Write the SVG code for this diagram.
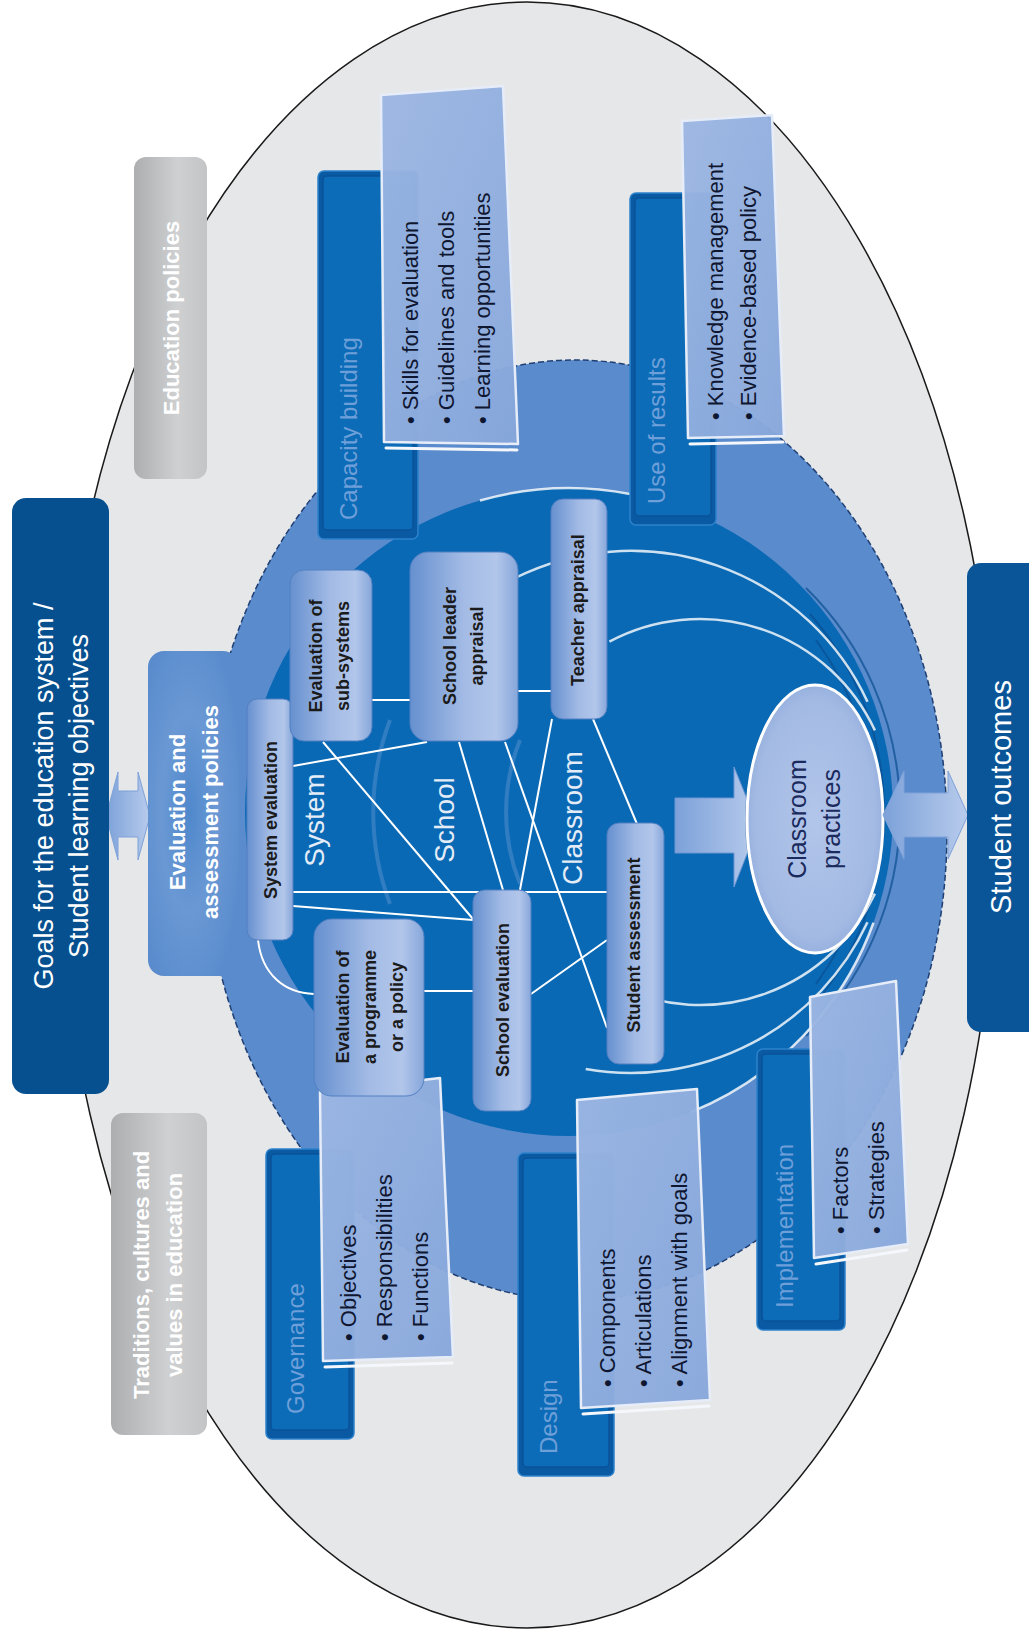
<svg xmlns="http://www.w3.org/2000/svg" width="1029" height="1636" viewBox="0 0 1029 1636">
<defs>
<linearGradient id="grayGrad" x1="0" y1="0" x2="1" y2="0">
<stop offset="0" stop-color="#adaeb0"/><stop offset="0.6" stop-color="#cfd0d2"/><stop offset="1" stop-color="#c3c4c6"/>
</linearGradient>
<linearGradient id="nodeGrad" x1="0" y1="0" x2="1" y2="0">
<stop offset="0" stop-color="#6690cf"/><stop offset="0.5" stop-color="#a3bbe5"/><stop offset="0.8" stop-color="#b2c6ea"/><stop offset="1" stop-color="#86a6da"/>
</linearGradient>
<linearGradient id="cardGrad" x1="0" y1="0" x2="1" y2="1">
<stop offset="0" stop-color="#9db7e3"/><stop offset="1" stop-color="#87a7db"/>
</linearGradient>
<radialGradient id="evalGrad" cx="0.45" cy="0.5" r="0.6">
<stop offset="0" stop-color="#4f88cc"/><stop offset="0.5" stop-color="#6a98d4"/><stop offset="1" stop-color="#5a8ccd"/>
</radialGradient>
<linearGradient id="arrowGrad" x1="0" y1="0" x2="1" y2="0">
<stop offset="0" stop-color="#7ca1d9"/><stop offset="1" stop-color="#b8cbec"/>
</linearGradient>
<radialGradient id="cpGrad" cx="0.5" cy="0.5" r="0.55">
<stop offset="0" stop-color="#b2c5ea"/><stop offset="0.8" stop-color="#a3bae3"/><stop offset="1" stop-color="#8eaadb"/>
</radialGradient>
<style>
.ff{font-family:'Liberation Sans',Arial,sans-serif}
.nt{font-family:'Liberation Sans',Arial,sans-serif;font-weight:bold;font-size:18px;fill:#1b1b1b;text-anchor:middle;dominant-baseline:central}
.bl{font-family:'Liberation Sans',Arial,sans-serif;font-size:22px;fill:#0f1630;dominant-baseline:central}
.tg{font-family:'Liberation Sans',Arial,sans-serif;font-size:24px;fill:#6e9fd8;dominant-baseline:central}
.big{font-family:'Liberation Sans',Arial,sans-serif;font-size:28px;fill:#e4ecf7;text-anchor:middle;dominant-baseline:central}
.sd{font-family:'Liberation Sans',Arial,sans-serif;font-weight:bold;font-size:22px;fill:#ffffff;text-anchor:middle;dominant-baseline:central}
.node{fill:url(#nodeGrad);stroke:#5280c2;stroke-width:1}
.card{fill:url(#cardGrad);fill-opacity:0.96;stroke:#e6edf8;stroke-width:2.5;stroke-linejoin:round}
.lip{stroke:#f4f7fc;stroke-width:3;fill:none;stroke-linecap:round}
.dk{fill:#0a5aa3;stroke:#2c82cc;stroke-width:1.5}
.dki{fill:#0c6cb8;stroke:#0a5298;stroke-width:1.5}
.conn{stroke:#ffffff;stroke-width:2;fill:none}
.hl{stroke:#ffffff;stroke-width:2.5;fill:none;stroke-opacity:0.8}
.ring{stroke:#0a4f92;stroke-width:2;fill:none;stroke-opacity:0.7}
</style>
</defs>

<g id="background">
<ellipse cx="527" cy="815" rx="470" ry="813" fill="#e6e7e8" stroke="#1a1a1a" stroke-width="1.5"/>
<ellipse cx="575" cy="830" rx="372" ry="470" fill="#5a8bcc" stroke="#1f3f73" stroke-width="1.5" stroke-dasharray="6 3"/>
<circle cx="569" cy="812" r="324" fill="#0a69b5"/>
<path class="ring" d="M 806 588 A 314 314 0 0 1 806 1036"/>
<path class="ring" d="M 810 614 A 302 302 0 0 1 810 1010"/>
<path class="ring" d="M 816 640 A 290 290 0 0 1 816 984"/>
<path d="M 390 720 A 261 261 0 0 0 390 904" stroke="#6b9ad6" stroke-opacity="0.4" stroke-width="4" fill="none"/>
<path d="M 520 740 A 193 193 0 0 0 520 884" stroke="#6b9ad6" stroke-opacity="0.4" stroke-width="4" fill="none"/>
<path class="hl" d="M 480 500.5 A 324 324 0 0 1 630 494"/>
<path class="hl" d="M 690.4 1112.4 A 324 324 0 0 0 873.5 922.8"/>
<path class="hl" d="M 515 578 A 261 261 0 0 1 867.5 701.7"/>
<path class="hl" d="M 585.7 1069 A 261 261 0 0 0 867.5 922.3"/>
<path class="hl" d="M 609.4 641.6 A 193 193 0 0 1 874.9 730.4"/>
<path class="hl" d="M 618.4 986.9 A 193 193 0 0 0 874.9 893.6"/>
<text class="big" transform="translate(314,820) rotate(-90)">System</text>
<text class="big" transform="translate(444,820) rotate(-90)">School</text>
<text class="big" transform="translate(572,818) rotate(-90)">Classroom</text>
</g>

<g id="connectors">
<line class="conn" x1="372" y1="700" x2="410" y2="700"/>
<line class="conn" x1="518" y1="691" x2="552" y2="691"/>
<line class="conn" x1="293" y1="766" x2="427" y2="742"/>
<line class="conn" x1="323" y1="742" x2="473" y2="919"/>
<line class="conn" x1="293" y1="892" x2="607" y2="892"/>
<line class="conn" x1="293" y1="906" x2="473" y2="920"/>
<line class="conn" x1="459" y1="742" x2="503" y2="890"/>
<line class="conn" x1="505" y1="742" x2="607" y2="1028"/>
<line class="conn" x1="552" y1="719" x2="520" y2="890"/>
<line class="conn" x1="593" y1="719" x2="637" y2="824"/>
<line class="conn" x1="424" y1="991" x2="473" y2="991"/>
<line class="conn" x1="531" y1="994" x2="607" y2="940"/>
<path class="conn" d="M 258 940 C 262 975 285 993 314 994"/>
</g>

<g id="tag-capacity-building">
<rect class="dk" x="318" y="171" width="100" height="368" rx="6"/>
<rect class="dki" x="323" y="176" width="90" height="354" rx="4"/>
<text class="tg" transform="translate(348,520) rotate(-90)">Capacity building</text>
<polygon class="card" points="381,95 503,86 518,444 384,442"/>
<path class="lip" d="M 386 448 L 517 450"/>
<text class="bl" transform="translate(410,424) rotate(-90)">•  Skills for evaluation</text>
<text class="bl" transform="translate(446,424) rotate(-90)">•  Guidelines and tools</text>
<text class="bl" transform="translate(482,424) rotate(-90)">•  Learning opportunities</text>
</g>

<g id="tag-use-of-results">
<rect class="dk" x="630" y="193" width="86" height="332" rx="6"/>
<rect class="dki" x="635" y="198" width="76" height="318" rx="4"/>
<text class="tg" transform="translate(656,504) rotate(-90)">Use of results</text>
<polygon class="card" points="682,121 772,115 784,436 688,438"/>
<path class="lip" d="M 690 444 L 783 442"/>
<text class="bl" transform="translate(715,420) rotate(-90)">•  Knowledge management</text>
<text class="bl" transform="translate(748,420) rotate(-90)">•  Evidence-based policy</text>
</g>

<g id="tag-governance">
<rect class="dk" x="266" y="1149" width="88" height="290" rx="6"/>
<rect class="dki" x="271" y="1154" width="78" height="276" rx="4"/>
<text class="tg" transform="translate(295,1414) rotate(-90)">Governance</text>
<polygon class="card" points="320,1092 440,1078 453,1357 323,1361"/>
<path class="lip" d="M 325 1367 L 452 1363"/>
<text class="bl" transform="translate(348,1341) rotate(-90)">•  Objectives</text>
<text class="bl" transform="translate(384,1341) rotate(-90)">•  Responsibilities</text>
<text class="bl" transform="translate(420,1341) rotate(-90)">•  Functions</text>
</g>

<g id="tag-design">
<rect class="dk" x="518" y="1153" width="96" height="323" rx="6"/>
<rect class="dki" x="523" y="1158" width="86" height="309" rx="4"/>
<text class="tg" transform="translate(548,1454) rotate(-90)">Design</text>
<polygon class="card" points="577,1100 697,1089 710,1400 581,1408"/>
<path class="lip" d="M 583 1414 L 709 1406"/>
<text class="bl" transform="translate(607,1387) rotate(-90)">•  Components</text>
<text class="bl" transform="translate(643,1387) rotate(-90)">•  Articulations</text>
<text class="bl" transform="translate(679,1387) rotate(-90)">•  Alignment with goals</text>
</g>

<g id="tag-implementation">
<rect class="dk" x="757" y="1049" width="88" height="281" rx="6"/>
<rect class="dki" x="762" y="1054" width="78" height="267" rx="4"/>
<text class="tg" transform="translate(784,1308) rotate(-90)">Implementation</text>
<polygon class="card" points="810,997 896,981 908,1244 814,1258"/>
<path class="lip" d="M 816 1264 L 907 1250"/>
<text class="bl" transform="translate(840,1234) rotate(-90)">•  Factors</text>
<text class="bl" transform="translate(876,1234) rotate(-90)">•  Strategies</text>
</g>

<g id="node-system-evaluation">
<rect class="node" x="247" y="699" width="46" height="241" rx="10"/>
<text class="nt" transform="translate(271,820) rotate(-90)">System evaluation</text>
</g>
<g id="node-evaluation-of-sub-systems">
<rect class="node" x="290" y="570" width="82" height="171" rx="14"/>
<text class="nt" transform="translate(316,656) rotate(-90)">Evaluation of</text>
<text class="nt" transform="translate(343,656) rotate(-90)">sub-systems</text>
</g>
<g id="node-school-leader-appraisal">
<rect class="node" x="410" y="552" width="108" height="189" rx="18"/>
<text class="nt" transform="translate(450,646) rotate(-90)">School leader</text>
<text class="nt" transform="translate(477,646) rotate(-90)">appraisal</text>
</g>
<g id="node-teacher-appraisal">
<rect class="node" x="551" y="499" width="56" height="220" rx="12"/>
<text class="nt" transform="translate(578,610) rotate(-90)">Teacher appraisal</text>
</g>
<g id="node-student-assessment">
<rect class="node" x="607" y="823" width="57" height="241" rx="12"/>
<text class="nt" transform="translate(634,945) rotate(-90)">Student assessment</text>
</g>
<g id="node-school-evaluation">
<rect class="node" x="473" y="890" width="58" height="221" rx="12"/>
<text class="nt" transform="translate(503,1000) rotate(-90)">School evaluation</text>
</g>
<g id="node-evaluation-of-programme">
<rect class="node" x="314" y="919" width="110" height="177" rx="18"/>
<text class="nt" transform="translate(343,1007) rotate(-90)">Evaluation of</text>
<text class="nt" transform="translate(370,1007) rotate(-90)">a programme</text>
<text class="nt" transform="translate(397,1007) rotate(-90)">or a policy</text>
</g>

<g id="arrow-to-practices">
<polygon points="675,798 734,798 734,767 758,826 734,887 734,853 675,853" fill="url(#arrowGrad)" stroke="#6f97d3" stroke-width="1"/>
</g>

<g id="node-classroom-practices">
<ellipse cx="815" cy="819" rx="70" ry="135" fill="#0a4f92" opacity="0.5"/>
<ellipse cx="815" cy="819" rx="68" ry="134" fill="url(#cpGrad)" stroke="#ffffff" stroke-width="3"/>
<text class="ff" transform="translate(797,819) rotate(-90)" text-anchor="middle" dominant-baseline="central" font-size="25" fill="#1b2a5c">Classroom</text>
<text class="ff" transform="translate(831,819) rotate(-90)" text-anchor="middle" dominant-baseline="central" font-size="25" fill="#1b2a5c">practices</text>
</g>

<g id="arrow-outcomes">
<polygon points="883,815 904,771 904,793 948,793 948,771 968,815 948,859 948,837 904,837 904,859" fill="url(#arrowGrad)" stroke="#7ea2d9" stroke-width="1"/>
</g>

<g id="arrow-goals">
<polygon points="106,816 118,772 118,791 138,791 138,772 150,816 138,860 138,837 118,837 118,860" fill="url(#arrowGrad)" stroke="#7ea2d9" stroke-width="1"/>
</g>

<g id="node-evaluation-assessment-policies">
<rect x="148" y="651" width="91" height="325" rx="16" fill="url(#evalGrad)"/>
<text class="sd" transform="translate(177,812) rotate(-90)">Evaluation and</text>
<text class="sd" transform="translate(210,812) rotate(-90)">assessment policies</text>
</g>

<g id="node-goals">
<rect x="12" y="498" width="97" height="596" rx="14" fill="#06508f"/>
<text class="ff" transform="translate(44,796) rotate(-90)" text-anchor="middle" dominant-baseline="central" font-size="27" fill="#ffffff">Goals for the education system /</text>
<text class="ff" transform="translate(79,796) rotate(-90)" text-anchor="middle" dominant-baseline="central" font-size="27" fill="#ffffff">Student learning objectives</text>
</g>

<g id="node-student-outcomes">
<rect x="967" y="563" width="80" height="469" rx="14" fill="#0a5597"/>
<text class="ff" transform="translate(1001,797) rotate(-90)" text-anchor="middle" dominant-baseline="central" font-size="29" fill="#ffffff">Student outcomes</text>
</g>

<g id="node-education-policies">
<rect x="134" y="157" width="73" height="322" rx="12" fill="url(#grayGrad)"/>
<text class="sd" transform="translate(171,318) rotate(-90)">Education policies</text>
</g>

<g id="node-traditions">
<rect x="111" y="1113" width="96" height="322" rx="12" fill="url(#grayGrad)"/>
<text class="sd" transform="translate(141,1275) rotate(-90)">Traditions, cultures and</text>
<text class="sd" transform="translate(174,1275) rotate(-90)">values in education</text>
</g>
</svg>
